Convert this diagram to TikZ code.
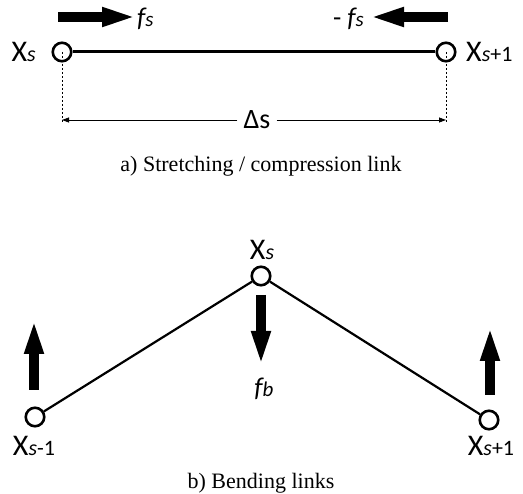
\documentclass[tikz,border=0pt]{standalone}
\usepackage{fontspec}
\setmainfont{Liberation Serif}
\newfontfamily\lblfont{Carlito}
\usetikzlibrary{arrows.meta}
\newcommand{\Xlab}[1]{{\lblfont\fontsize{30}{30}\selectfont X\fontsize{22}{22}\selectfont #1}}
\begin{document}
\begin{tikzpicture}[x=1pt,y=-1pt,
  joint/.style={circle,draw,line width=2.6pt,minimum size=18.5pt,inner sep=0pt,fill=white},
  force/.style={line width=9.5pt,-{Triangle[length=36pt,width=17pt]}},
  lbl/.style={inner sep=0pt,font=\lblfont},
  caption/.style={inner sep=0pt,font=\fontsize{22}{22}\selectfont}]
\useasboundingbox (0,0) rectangle (523,494);
% ---- a) stretching link
\node[joint] (a1) at (62,52) {};
\node[joint] (a2) at (446,52) {};
\draw[line width=3pt] (a1) -- (a2);
\coordinate (d1) at (62,122);
\coordinate (d2) at (446,122);
\draw[line width=0.7pt,dash pattern=on 2.5pt off 1.5pt] (a1.center) -- (d1);
\draw[line width=0.7pt,dash pattern=on 2.5pt off 1.5pt] (a2.center) -- (d2);
\node[lbl,fill=white,inner xsep=6pt,font=\lblfont\fontsize{28}{28}\selectfont] (ds) at (257,120) {Δs};
\draw[line width=0.8pt,-{Triangle[length=7pt,width=5pt]}] (ds) -- (d1|-ds);
\draw[line width=0.8pt,-{Triangle[length=7pt,width=5pt]}] (ds) -- (d2|-ds);
\node[lbl,anchor=east] (xa1) at (36,52) {\Xlab{\itshape s}};
\node[lbl,anchor=west] (xa2) at (466,52) {\Xlab{{\itshape s}+1}};
\coordinate (f1s) at (58,17);
\coordinate (f1e) at (138,17);
\draw[force] (f1s) -- (f1e);
\node[lbl,anchor=west,font=\lblfont\fontsize{27}{27}\selectfont\itshape] (fs1) at (137,19) {f\fontsize{21}{21}\selectfont s};
\coordinate (f2s) at (448,17);
\coordinate (f2e) at (368,17);
\draw[force] (f2s) -- (f2e);
\node[lbl,anchor=east,font=\lblfont\fontsize{27}{27}\selectfont] (fs2) at (364,19) {- \itshape f\fontsize{21}{21}\selectfont s};
\node[caption] (capa) at (261,166) {a) Stretching / compression link};
% ---- b) bending links
\node[joint] (b0) at (35,417) {};
\node[joint] (b1) at (261,276) {};
\node[joint] (b2) at (489,420) {};
\draw[line width=2.2pt] (b0) -- (b1) -- (b2);
\node[lbl] (xb1) at (262,250) {\Xlab{\itshape s}};
\node[lbl] (xb0) at (34,446) {\Xlab{{\itshape s}-1}};
\node[lbl] (xb2) at (491,446) {\Xlab{{\itshape s}+1}};
\coordinate (u0s) at (34,390);
\coordinate (u0e) at (34,318);
\draw[force] (u0s) -- (u0e);
\coordinate (u2s) at (490,395);
\coordinate (u2e) at (490,325);
\draw[force] (u2s) -- (u2e);
\coordinate (dns) at (261,295);
\coordinate (dne) at (261,367);
\draw[force] (dns) -- (dne);
\node[lbl,font=\lblfont\fontsize{27}{27}\selectfont\itshape] (fb) at (264,389) {f\fontsize{21}{21}\selectfont b};
\node[caption] (capb) at (261,483) {b) Bending links};
\end{tikzpicture}
\end{document}
